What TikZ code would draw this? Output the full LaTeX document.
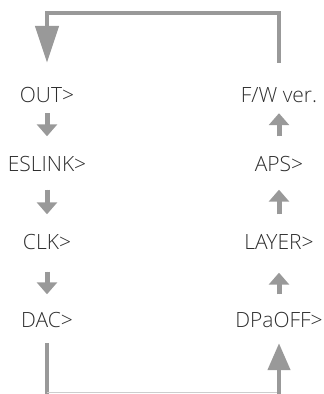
\documentclass[tikz,border=0pt]{standalone}
\usepackage{fontspec}
\setmainfont{Open Sans Light}
\usetikzlibrary{arrows.meta}
\definecolor{arrgray}{RGB}{153,153,153}
\definecolor{lightline}{RGB}{205,205,205}
\definecolor{labeltext}{RGB}{45,45,45}
\begin{document}
\begin{tikzpicture}[x=1pt, y=1pt,
  menu/.style={inner sep=0pt, text height=15pt, text depth=0pt,
    font=\fontsize{21}{21}\selectfont, text=labeltext},
  steparr/.style={draw=arrgray, fill=arrgray, line width=5pt,
    -{Triangle[width=20pt, length=12pt]}},
  loopline/.style={draw=arrgray, line width=4.5pt},
  thinline/.style={draw=lightline, line width=1pt},
]
\useasboundingbox (0,0) rectangle (324,394);

% left column
\node[menu] (out) at (47,298.5) {OUT>};
\node[menu] (esl) at (47,230) {ESLINK>};
\node[menu] (clk) at (47,152) {CLK>};
\node[menu] (dac) at (47,74) {DAC>};

% right column
\node[menu] (fw)  at (279,298.5) {F/W ver.};
\node[menu] (aps) at (279,230) {APS>};
\node[menu] (lay) at (279,152) {LAYER>};
\node[menu] (dpa) at (279,74) {DPaOFF>};

% small arrows down
\draw[steparr, shorten <=10pt, shorten >=20pt] (out.south) -- (esl.north);
\draw[steparr, shorten <=18pt, shorten >=20pt] (esl.south) -- (clk.north);
\draw[steparr, shorten <=22pt, shorten >=18pt] (clk.south) -- (dac.north);

% small arrows up
\draw[steparr, shorten <=20pt, shorten >=10pt] (aps.north) -- (fw.south);
\draw[steparr, shorten <=20pt, shorten >=18pt] (lay.north) -- (aps.south);
\draw[steparr, shorten <=18pt, shorten >=23pt] (dpa.north) -- (lay.south);

% loop back at the top
\draw[loopline, -{Triangle[width=23pt, length=37pt]}]
  ([yshift=25pt]fw.north) -- ++(0,50) -| ([yshift=25pt]out.north);

% link at the bottom
\coordinate (botL) at (47,0);
\coordinate (botR) at (279,0);
\draw[loopline] ([yshift=-15.5pt]dac.south) -- (botL);
\draw[thinline] ([yshift=1.5pt]botL) -- ([yshift=1.5pt]botR);
\draw[loopline, -{Triangle[width=22pt, length=27pt]}]
  (botR) -- ([yshift=-15.5pt]dpa.south);

\end{tikzpicture}
\end{document}
